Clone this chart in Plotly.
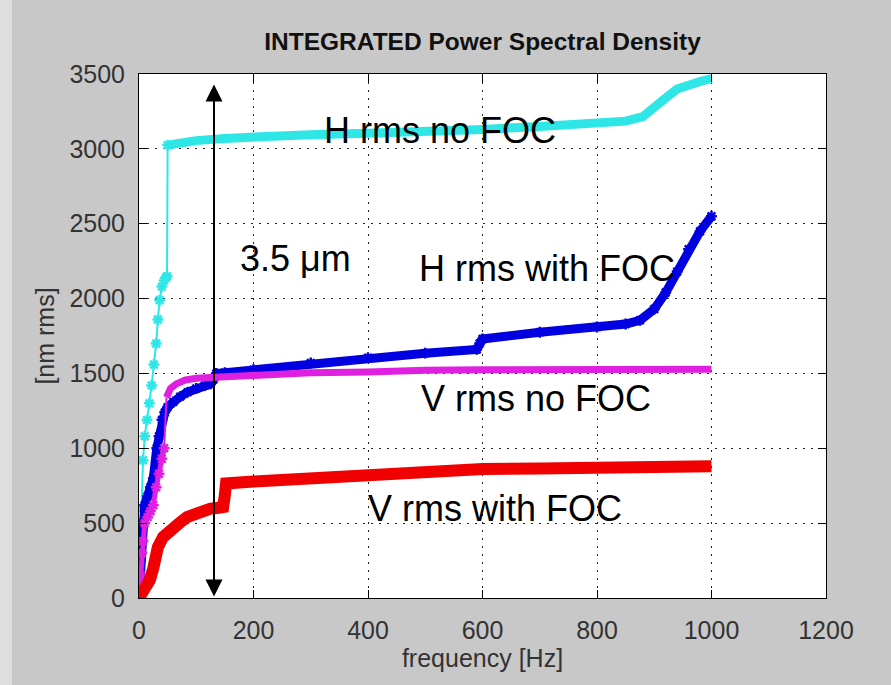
import plotly.graph_objects as go

# ---------------- data ----------------
# H rms no FOC (cyan): steep rise (sparse points) then dense plateau
h_nofoc_rise_x = [0, 2, 4, 7, 10, 14, 18, 22, 26, 30, 33, 36, 40, 44, 47, 49, 50]
h_nofoc_rise_y = [0, 300, 600, 920, 1080, 1190, 1300, 1420, 1560, 1700, 1860, 1990, 2080, 2120, 2140, 2150, 3025]
h_nofoc_flat_x = [50, 70, 100, 150, 200, 250, 300, 400, 500, 585, 600, 700, 800, 850, 880, 900, 920, 940, 960, 980, 1000]
h_nofoc_flat_y = [3025, 3040, 3055, 3070, 3080, 3088, 3095, 3105, 3112, 3118, 3130, 3150, 3170, 3185, 3215, 3270, 3340, 3400, 3430, 3450, 3470]

# H rms with FOC (blue)
h_foc_x = [0, 3, 6, 10, 15, 20, 25, 31, 35, 40, 45, 50, 60, 72, 85, 100, 115, 125, 130, 135, 150, 200, 300,
           400, 500, 590, 595, 600, 700, 800, 850, 875, 900, 920, 940, 960, 980, 1000]
h_foc_y = [0, 250, 500, 620, 680, 740, 800, 1000, 1080, 1190, 1240, 1275, 1310, 1345, 1375, 1400, 1420, 1430, 1460, 1500, 1505, 1525, 1570,
           1605, 1635, 1660, 1700, 1730, 1775, 1810, 1830, 1855, 1930, 2040, 2180, 2330, 2450, 2550]

# V rms no FOC (magenta): low part, thin jump, plateau
v_nofoc_low_x = [0, 3, 5, 7, 10, 15, 20, 25, 30, 35, 40, 44]
v_nofoc_low_y = [0, 150, 300, 380, 500, 540, 580, 620, 740, 830, 930, 1000]
v_nofoc_jump_x = [44, 48]
v_nofoc_jump_y = [1000, 1340]
v_nofoc_flat_x = [48, 55, 65, 80, 100, 130, 150, 200, 250, 300, 400, 450, 500, 600, 800, 1000]
v_nofoc_flat_y = [1340, 1400, 1430, 1455, 1468, 1475, 1480, 1490, 1495, 1505, 1510, 1520, 1522, 1524, 1527, 1528]

# V rms with FOC (red)
v_foc_x = [0, 5, 10, 19, 25, 28, 33, 42, 50, 60, 72, 84, 100, 112, 125, 136, 147, 150, 152, 200, 280, 380,
           500, 600, 700, 800, 860, 870, 1000]
v_foc_y = [0, 30, 60, 120, 200, 254, 340, 407, 440, 467, 505, 541, 570, 587, 597, 601, 608, 690, 765, 778, 795, 830,
           850, 862, 865, 867, 868, 878, 880]

x_ticks = [0, 200, 400, 600, 800, 1000, 1200]
y_ticks = [0, 500, 1000, 1500, 2000, 2500, 3000, 3500]

labels = ["H rms no FOC", "3.5 \u03bcm", "H rms with FOC", "V rms no FOC", "V rms with FOC"]
label_x = [526, 274, 713, 693, 622]
label_y = [3120, 2270, 2200, 1335, 595]

arrow_x = 131
arrow_y0 = 0
arrow_y1 = 3430

CYAN = "#2ee6e6"
BLUE = "#0000e0"
MAGENTA = "#e020e0"
RED = "#f00000"
FONT = "Liberation Sans, Arial, sans-serif"

fig = go.Figure()

# cyan
fig.add_trace(go.Scatter(x=h_nofoc_rise_x, y=h_nofoc_rise_y, mode="lines+markers",
                         line=dict(color=CYAN, width=2),
                         marker=dict(symbol="asterisk-open", size=9, line=dict(color=CYAN, width=2.5)),
                         showlegend=False))
fig.add_trace(go.Scatter(x=h_nofoc_flat_x, y=h_nofoc_flat_y, mode="lines",
                         line=dict(color=CYAN, width=9), showlegend=False))
# blue
fig.add_trace(go.Scatter(x=h_foc_x, y=h_foc_y, mode="lines+markers",
                         line=dict(color=BLUE, width=9),
                         marker=dict(symbol="asterisk-open", size=9, line=dict(color=BLUE, width=2.5)),
                         showlegend=False))
# magenta
fig.add_trace(go.Scatter(x=v_nofoc_low_x, y=v_nofoc_low_y, mode="lines+markers",
                         line=dict(color=MAGENTA, width=5),
                         marker=dict(symbol="asterisk-open", size=9, line=dict(color=MAGENTA, width=2.5)),
                         showlegend=False))
fig.add_trace(go.Scatter(x=v_nofoc_jump_x, y=v_nofoc_jump_y, mode="lines",
                         line=dict(color=MAGENTA, width=2), showlegend=False))
fig.add_trace(go.Scatter(x=v_nofoc_flat_x, y=v_nofoc_flat_y, mode="lines",
                         line=dict(color=MAGENTA, width=7), showlegend=False))
# red
fig.add_trace(go.Scatter(x=v_foc_x, y=v_foc_y, mode="lines",
                         line=dict(color=RED, width=12), showlegend=False))

# text labels
for t, lx, ly in zip(labels, label_x, label_y):
    fig.add_annotation(x=lx, y=ly, text=t, showarrow=False, xref="x", yref="y",
                       font=dict(family=FONT, size=36, color="black"),
                       xanchor="center", yanchor="middle")

# double-headed arrow
fig.add_annotation(x=arrow_x, y=arrow_y1, ax=arrow_x, ay=arrow_y0, xref="x", yref="y",
                   axref="x", ayref="y", text="", showarrow=True,
                   arrowhead=2, arrowsize=1.7, arrowwidth=2, arrowcolor="black",
                   arrowside="end+start", startarrowhead=2, startarrowsize=1.7)

axis_common = dict(showline=True, linecolor="black", linewidth=1, mirror="ticks",
                   ticks="inside", ticklen=8, tickcolor="black", tickwidth=1,
                   showgrid=True, gridcolor="#222222", gridwidth=1, griddash="2px,6px",
                   zeroline=False, tickfont=dict(family=FONT, size=25, color="#333333"))

fig.update_xaxes(range=[0, 1200], tickvals=x_ticks, ticktext=[str(v) for v in x_ticks],
                 title=dict(text="frequency [Hz]", font=dict(family=FONT, size=25, color="#333333"), standoff=0),
                 ticklabelstandoff=10, **axis_common)
fig.update_yaxes(range=[0, 3500], tickvals=y_ticks, ticktext=[str(v) for v in y_ticks],
                 title=dict(text="[nm rms]", font=dict(family=FONT, size=25, color="#333333"), standoff=7),
                 ticklabelstandoff=8, **axis_common)

fig.update_layout(
    width=891, height=685,
    margin=dict(l=139, r=65, t=74, b=87, autoexpand=False),
    paper_bgcolor="#c8c8c8", plot_bgcolor="white",
    title=dict(text="<b>INTEGRATED Power Spectral Density</b>", x=0.5, xref="paper",
               y=1 - 41 / 685, yref="container", yanchor="middle", xanchor="center",
               font=dict(family=FONT, size=24.5, color="#111111")),
    shapes=[dict(type="rect", xref="paper", yref="paper", layer="below",
                 x0=-139 / 687, x1=-127 / 687, y0=-87 / 524, y1=(524 + 74) / 524,
                 fillcolor="#dedede", line=dict(width=0))],
)

fig.write_html("out.html")
